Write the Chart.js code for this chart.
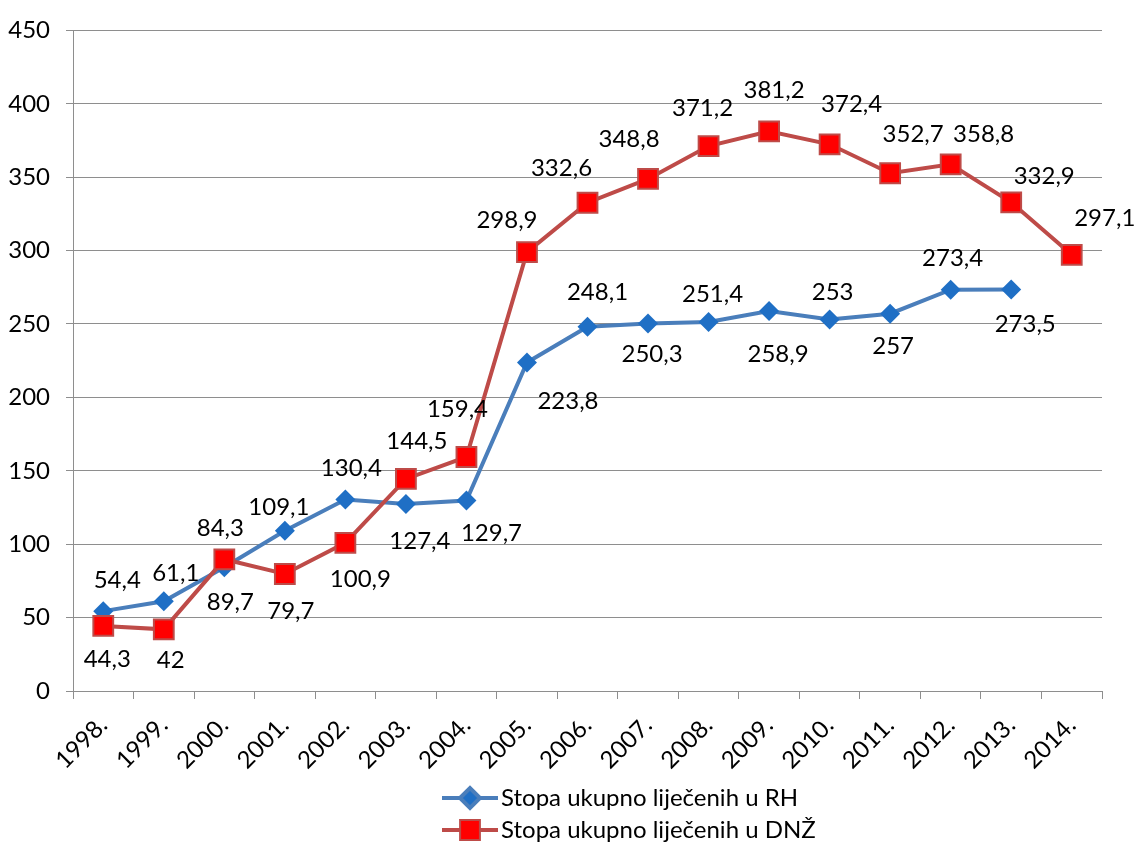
<!DOCTYPE html>
<html>
<head>
<meta charset="utf-8">
<script src="https://cdn.jsdelivr.net/npm/chart.js@4.4.0/dist/chart.umd.min.js"></script>
<style>
  html, body { margin: 0; padding: 0; background: #fff; }
</style>
</head>
<body>
<canvas id="chart" width="1136" height="848"></canvas>
<script>
// categories + series
const years = ['1998.', '1999.', '2000.', '2001.', '2002.', '2003.', '2004.', '2005.', '2006.',
  '2007.', '2008.', '2009.', '2010.', '2011.', '2012.', '2013.', '2014.'];
const rhValues = [54.4, 61.1, 84.3, 109.1, 130.4, 127.4, 129.7, 223.8, 248.1,
  250.3, 251.4, 258.9, 253, 257, 273.4, 273.5, null];
const dnzValues = [44.3, 42, 89.7, 79.7, 100.9, 144.5, 159.4, 298.9, 332.6,
  348.8, 371.2, 381.2, 372.4, 352.7, 358.8, 332.9, 297.1];
const yTicks = [0, 50, 100, 150, 200, 250, 300, 350, 400, 450];
const seriesNames = ['Stopa ukupno liječenih u RH', 'Stopa ukupno liječenih u DNŽ'];

// where each value label sits relative to its point (px)
const rhLabelShift = [[14,-31],[12,-28],[-4,-39],[-6,-24],[6,-31],[14,37],[25,33],[41,39],
  [10,-35],[4,31],[4,-28],[9,43],[3,-27],[3,33],[2,-31],[14,35]];
const dnzLabelShift = [[4,33],[7,31],[6,43],[6,37],[15,36],[11,-38],[-9,-48],[-20,-32],
  [-26,-34],[-19,-40],[-6,-38],[5,-41],[22,-40],[23,-39],[33,-30],[33,-26],[33,-37]];

const BLUE_LINE = '#4a7ebb';
const BLUE_MARK = '#1f6fc5';
const RED_LINE = '#be4b48';
const RED_MARK = '#ff0000';
const FONT = 'Lato, "Open Sans", sans-serif';

const fmt = v => String(v).replace('.', ',');

// value labels next to the points
const valueLabels = {
  id: 'valueLabels',
  afterDatasetsDraw(chart) {
    const ctx = chart.ctx;
    const shifts = [rhLabelShift, dnzLabelShift];
    ctx.save();
    ctx.font = '24px ' + FONT;
    ctx.fillStyle = '#000';
    ctx.textAlign = 'center';
    ctx.textBaseline = 'middle';
    chart.data.datasets.forEach((ds, di) => {
      const meta = chart.getDatasetMeta(di);
      meta.data.forEach((pt, i) => {
        if (ds.data[i] == null) return;
        const s = shifts[di][i] || [0, -30];
        ctx.fillText(fmt(ds.data[i]), pt.x + s[0], pt.y + s[1]);
      });
    });
    ctx.restore();
  }
};

// two-row legend under the axis, like the original
const bottomLegend = {
  id: 'bottomLegend',
  afterDraw(chart) {
    const ctx = chart.ctx;
    const rows = [
      { name: seriesNames[0], line: BLUE_LINE, mark: BLUE_MARK, style: 'rectRot', r: 10, y: 798 },
      { name: seriesNames[1], line: RED_LINE, mark: RED_MARK, style: 'rect', r: 14, y: 830 }
    ];
    ctx.save();
    ctx.font = '24px ' + FONT;
    ctx.textBaseline = 'middle';
    rows.forEach(row => {
      ctx.strokeStyle = row.line;
      ctx.lineWidth = 4;
      ctx.beginPath();
      ctx.moveTo(442, row.y);
      ctx.lineTo(498, row.y);
      ctx.stroke();
      ctx.fillStyle = row.mark;
      ctx.strokeStyle = row.line;
      ctx.lineWidth = row.style === 'rect' ? 2 : 0;
      Chart.helpers.drawPoint(ctx, { pointStyle: row.style, radius: row.r, borderWidth: ctx.lineWidth }, 470, row.y);
      ctx.fillStyle = '#000';
      ctx.fillText(row.name, 501, row.y);
    });
    ctx.restore();
  }
};

new Chart(document.getElementById('chart'), {
  type: 'line',
  data: {
    labels: years,
    datasets: [
      {
        label: seriesNames[0],
        data: rhValues,
        borderColor: BLUE_LINE,
        borderWidth: 4,
        pointStyle: 'rectRot',
        pointRadius: 10,
        pointBackgroundColor: BLUE_MARK,
        pointBorderColor: BLUE_MARK,
        pointBorderWidth: 0,
        tension: 0,
        order: 2
      },
      {
        label: seriesNames[1],
        data: dnzValues,
        borderColor: RED_LINE,
        borderWidth: 4,
        pointStyle: 'rect',
        pointRadius: 14,
        pointBackgroundColor: RED_MARK,
        pointBorderColor: RED_LINE,
        pointBorderWidth: 2,
        tension: 0,
        order: 1
      }
    ]
  },
  options: {
    responsive: false,
    animation: false,
    devicePixelRatio: 1,
    layout: { padding: { top: 28, right: 34, bottom: 0, left: 0 } },
    plugins: {
      legend: { display: false },
      tooltip: { enabled: false }
    },
    scales: {
      x: {
        offset: true,
        grid: {
          offset: true,
          drawOnChartArea: false,
          drawTicks: true,
          tickLength: 8,
          color: '#8e8e8e'
        },
        border: { color: '#8e8e8e', width: 1 },
        ticks: {
          color: '#000',
          font: { family: FONT, size: 24 },
          minRotation: 45,
          maxRotation: 45,
          padding: 12,
          autoSkip: false
        },
        afterFit(scale) { scale.height = 157; }
      },
      y: {
        min: 0,
        max: 450,
        afterBuildTicks(scale) { scale.ticks = yTicks.map(v => ({ value: v })); },
        grid: {
          color: '#8e8e8e',
          tickLength: 7
        },
        border: { color: '#8e8e8e', width: 1 },
        ticks: {
          color: '#000',
          font: { family: FONT, size: 24 },
          padding: 16
        },
        afterFit(scale) { scale.width = 73; }
      }
    }
  },
  plugins: [valueLabels, bottomLegend]
});
</script>
</body>
</html>
